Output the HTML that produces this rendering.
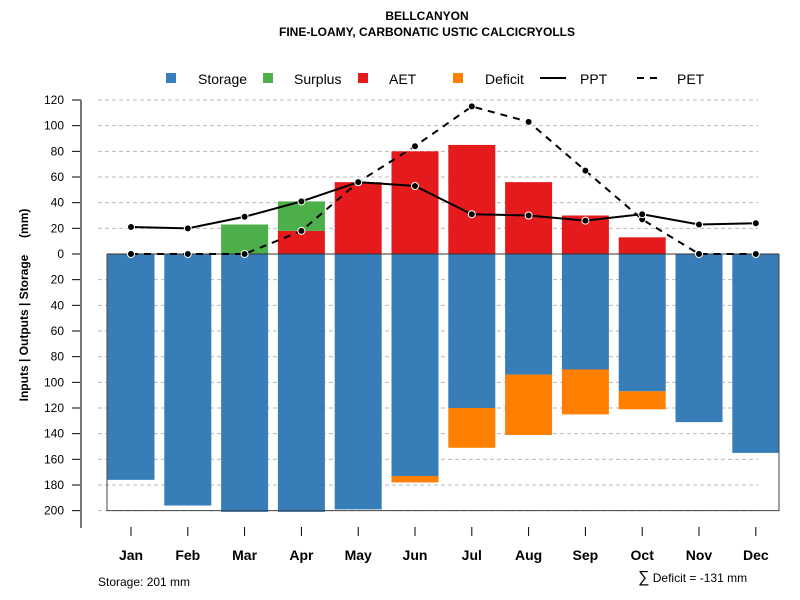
<!DOCTYPE html>
<html><head><meta charset="utf-8"><style>body{margin:0;background:#fff}svg{display:block;font-family:"Liberation Sans",sans-serif}</style></head>
<body>
<svg id="c" width="800" height="600">
<text x="427" y="20" text-anchor="middle" font-size="12" font-weight="bold">BELLCANYON</text>
<text x="427" y="36" text-anchor="middle" font-size="12" font-weight="bold">FINE-LOAMY, CARBONATIC USTIC CALCICRYOLLS</text>
<g id="legend">
<rect x="166" y="73" width="10" height="10" fill="#377eb8"/><text x="198" y="84" font-size="14">Storage</text>
<rect x="263" y="73" width="10" height="10" fill="#4daf4a"/><text x="294" y="84" font-size="14">Surplus</text>
<rect x="358" y="73" width="10" height="10" fill="#e41a1c"/><text x="389" y="84" font-size="14">AET</text>
<rect x="453" y="73" width="10" height="10" fill="#ff7f00"/><text x="485" y="84" font-size="14">Deficit</text>
<line x1="540" y1="78" x2="566" y2="78" stroke="#000" stroke-width="2"/><text x="580" y="84" font-size="14">PPT</text>
<line x1="637" y1="78" x2="663" y2="78" stroke="#000" stroke-width="2" stroke-dasharray="7,6"/><text x="677" y="84" font-size="14">PET</text>
</g>
<g id="grid"></g><g id="bars"></g><g id="frame"></g><g id="lines"></g><g id="axes"></g>
<text x="98" y="586" font-size="12">Storage: 201 mm</text>
<text x="638" y="582" font-size="12"><tspan font-size="16">∑</tspan> Deficit = -131 mm</text>
<text transform="translate(28,305) rotate(-90)" text-anchor="middle" font-size="12" font-weight="bold" style="white-space:pre">Inputs | Outputs | Storage     (mm)</text>
</svg>
<script>
const months=["Jan","Feb","Mar","Apr","May","Jun","Jul","Aug","Sep","Oct","Nov","Dec"];
const storage=[176,196,201,201,199,173,120,94,90,107,131,155];
const deficit=[0,0,0,0,0,5,31,47,35,14,0,0];
const aet=[0,0,0,18,56,80,85,56,30,13,0,0];
const surplus=[0,0,23,23,0,0,0,0,0,0,0,0];
const ppt=[21,20,29,41,56,53,31,30,26,31,23,24];
const pet=[0,0,0,18,56,84,115,103,65,27,0,0];
const yTicks=[120,100,80,60,40,20,0,-20,-40,-60,-80,-100,-120,-140,-160,-180,-200];
const NS="http://www.w3.org/2000/svg";
const y=v=>254-v*1.2833;
const x=i=>131+i*56.8;
const bw=47;
function mk(p,t,a){const e=document.createElementNS(NS,t);for(const k in a)e.setAttribute(k,a[k]);document.getElementById(p).appendChild(e);return e;}
yTicks.forEach(t=>{
 if(t!==0){const g=mk('grid','line',{x1:98,x2:758,y1:y(t),y2:y(t),stroke:'#bbb','stroke-dasharray':'4,3'});
 
 }
 const tk=mk('axes','line',{x1:72,x2:81,y1:y(t),y2:y(t),stroke:'#000'});
 
 
 const l=mk('axes','text',{x:64,y:y(t)+4,'text-anchor':'end','font-size':12});l.textContent=Math.abs(t);
 
 
});
const ax=mk('axes','line',{x1:81,x2:81,y1:y(120),y2:528,stroke:'#777','stroke-width':2});


months.forEach((m,i)=>{
 const cx=x(i),l=cx-bw/2;
 const s=mk('bars','rect',{x:l,y:y(0),width:bw,height:y(-storage[i])-y(0),fill:'#377eb8'});
 
 
 if(deficit[i]){const d=mk('bars','rect',{x:l,y:y(-storage[i]),width:bw,height:y(-storage[i]-deficit[i])-y(-storage[i]),fill:'#ff7f00'});
 
 }
 if(aet[i]){const a=mk('bars','rect',{x:l,y:y(aet[i]),width:bw,height:y(0)-y(aet[i]),fill:'#e41a1c'});
 
 }
 if(surplus[i]){const s2=mk('bars','rect',{x:l,y:y(aet[i]+surplus[i]),width:bw,height:y(aet[i])-y(aet[i]+surplus[i]),fill:'#4daf4a'});
 
 }
 const tk=mk('axes','line',{x1:cx,x2:cx,y1:527,y2:536,stroke:'#000'});
 
 
 const t=mk('axes','text',{x:cx,y:560,'text-anchor':'middle','font-size':14,'font-weight':'bold'});t.textContent=m;
 
 
});
const fr=mk('frame','path',{d:`M107,${y(0)} V${y(-200)} H779 V${y(0)}`,fill:'none',stroke:'#444'});


const z=mk('frame','line',{x1:107,x2:779,y1:y(0),y2:y(0),stroke:'#333'});


[[pet,'7,6','pet'],[ppt,null,'ppt']].forEach(([d,dash,n])=>{
 const a={points:d.map((v,i)=>x(i)+','+y(v)).join(' '),fill:'none',stroke:'#000','stroke-width':2};
 if(dash)a['stroke-dasharray']=dash;
 const p=mk('lines','polyline',a);
 
 
 d.forEach((v,i)=>{const c=mk('lines','circle',{cx:x(i),cy:y(v),r:3.5,fill:'#000',stroke:'#fff','stroke-width':1});
 
 });
});
</script>
</body></html>
